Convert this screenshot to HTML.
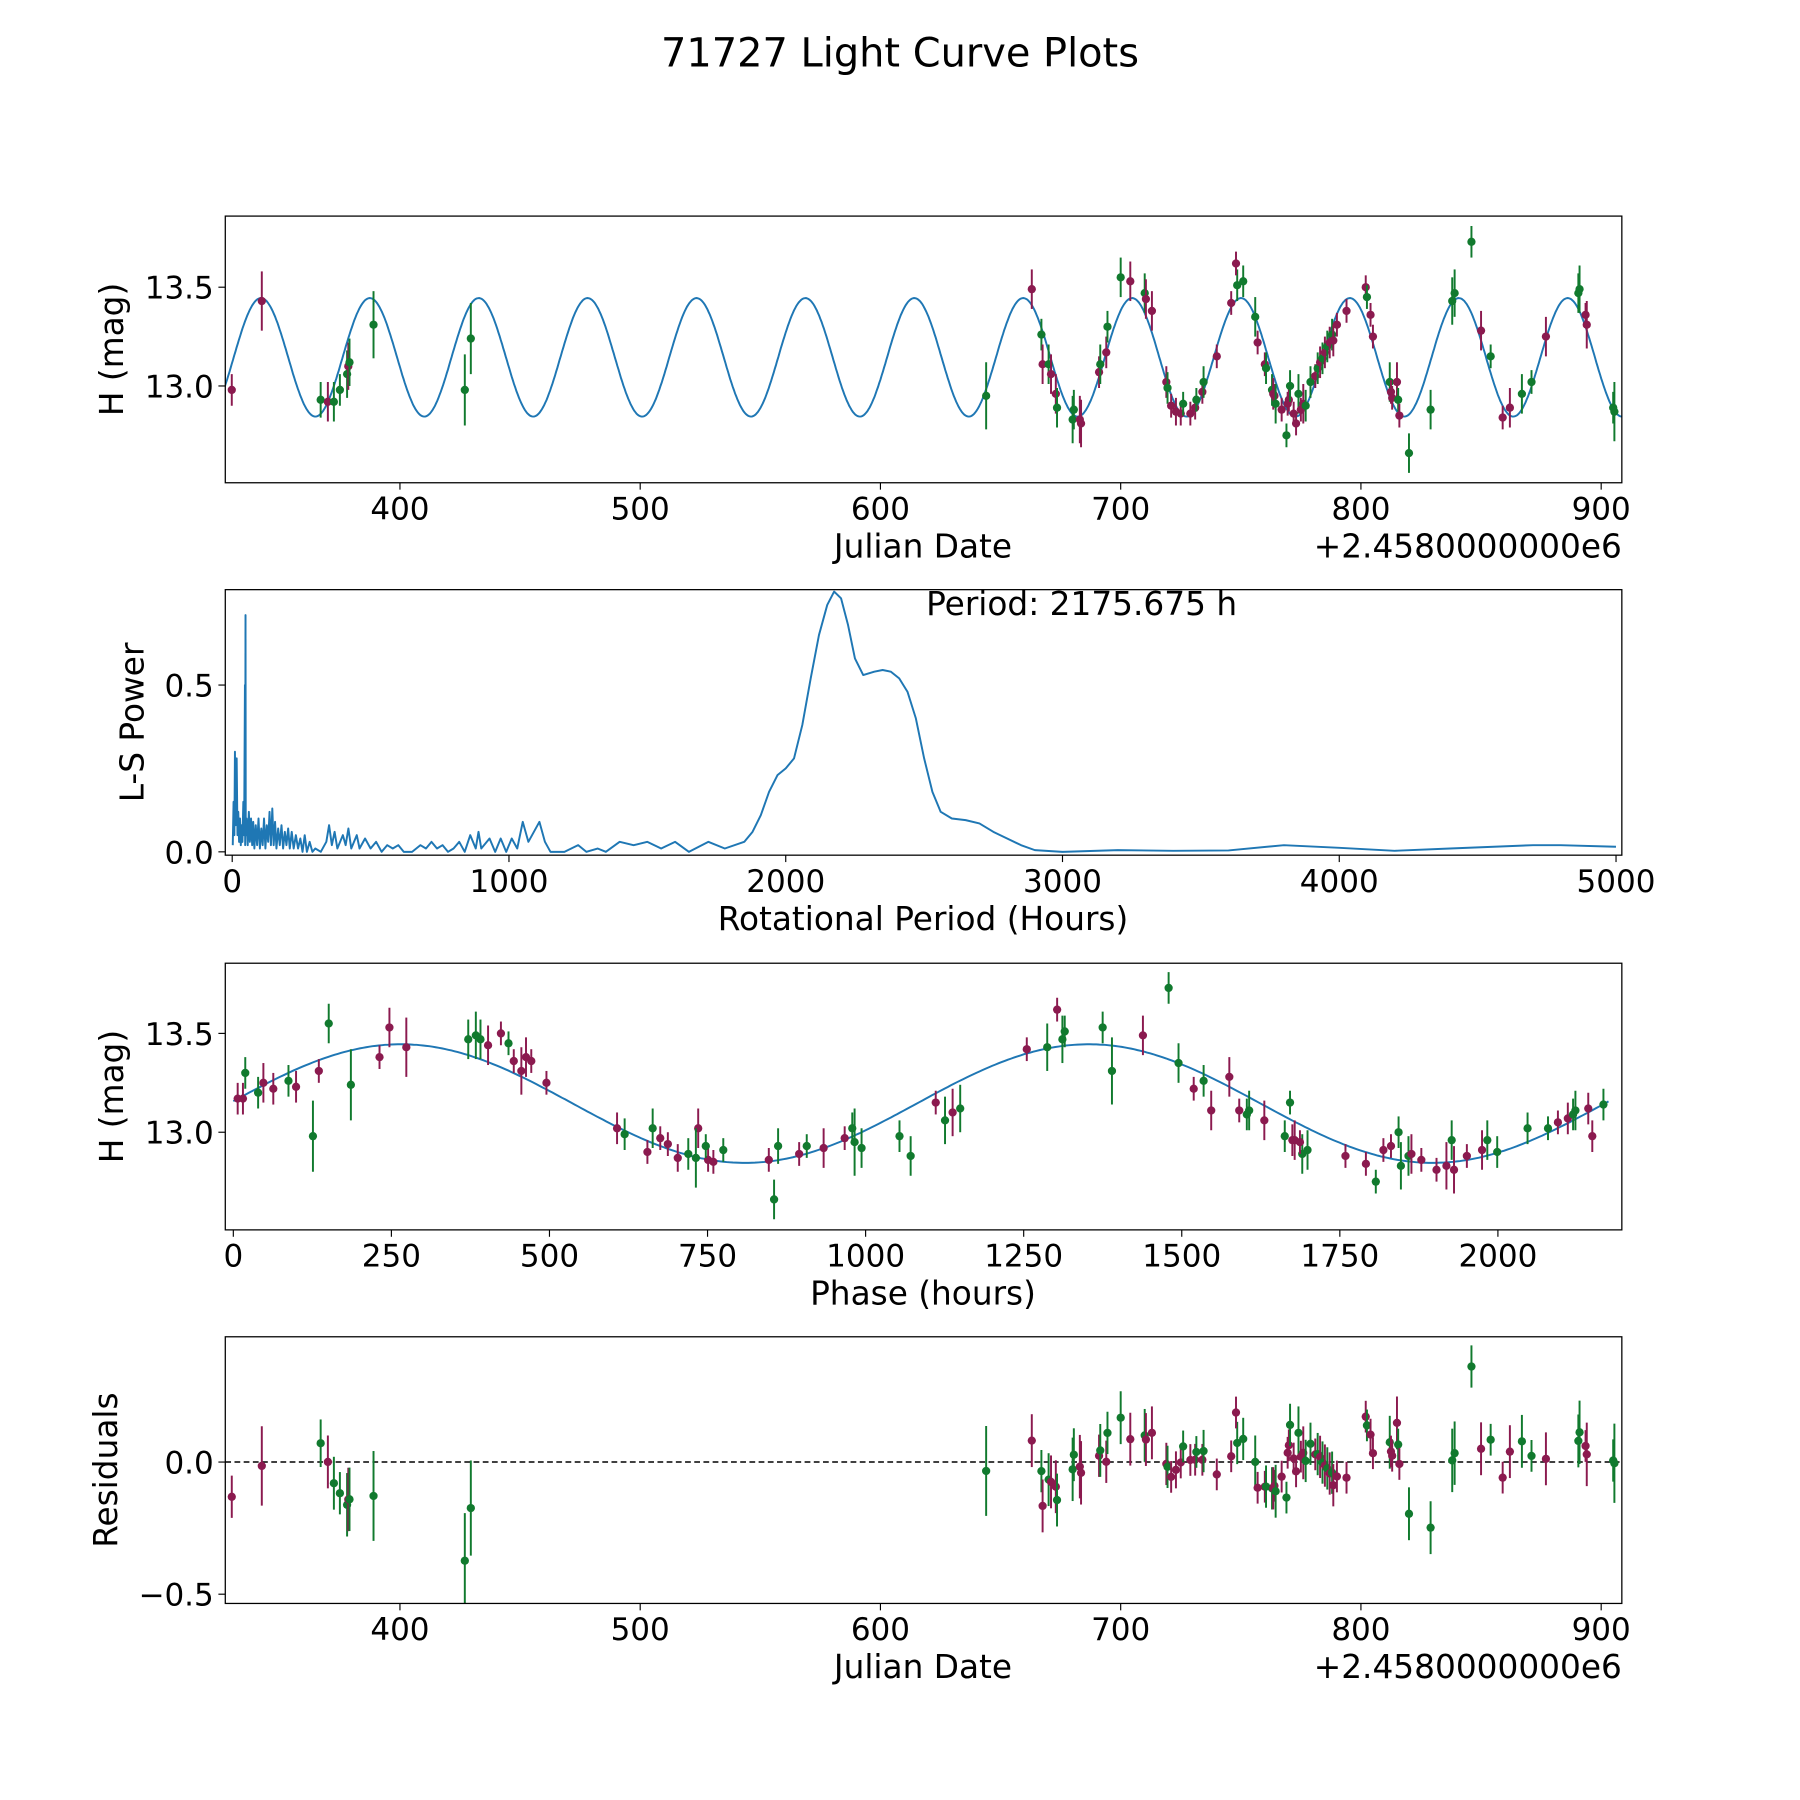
<!DOCTYPE html>
<html><head><meta charset="utf-8"><style>
html,body{margin:0;padding:0;background:#fff;}
svg{display:block;font-family:"DejaVu Sans","Liberation Sans",sans-serif;}
</style></head><body>
<svg id="fig" width="1800" height="1800" viewBox="0 0 1566 1566">
<text x="783" y="58" font-size="34.7" text-anchor="middle">71727 Light Curve Plots</text>
</svg>
<script>
// ---- data ----
const obsJD = [330,342.5,367,370,372.5,375,378,378.5,379,389,427,429.5,644,663,667,667.5,670,671,673,673.5,680,680.5,683,683.5,691,691.5,694,694.5,700,704,710,710.5,713,719,719.5,721,723,725,726,729,731,731.5,734,734.5,740,746,748.5,748,751,756,757,760,760.5,763,763.5,764,764.5,767,769,769.5,770,770.5,772,773,774,775,776,777,779,781,782,783,784,785,786,787,788,788.5,790,794,802,802.5,804,805,812,812.5,813,815,815.5,816,820,829,838,839,846,850,854,859,862,867,871,877,891,890.5,893.5,894,905,905.5];
const obsMag = [12.98,13.43,12.93,12.92,12.92,12.98,13.06,13.1,13.12,13.31,12.98,13.24,12.95,13.49,13.26,13.11,13.11,13.06,12.96,12.89,12.83,12.88,12.83,12.81,13.07,13.11,13.17,13.3,13.55,13.53,13.47,13.44,13.38,13.02,12.99,12.9,12.87,12.86,12.91,12.86,12.89,12.93,12.97,13.02,13.15,13.42,13.51,13.62,13.53,13.35,13.22,13.11,13.09,12.98,12.96,12.95,12.91,12.88,12.75,12.91,12.93,13.0,12.86,12.81,12.96,12.88,12.91,12.9,13.02,13.05,13.09,13.12,13.14,13.17,13.2,13.22,13.26,13.23,13.31,13.38,13.5,13.45,13.36,13.25,13.02,12.97,12.94,13.02,12.93,12.85,12.66,12.88,13.43,13.47,13.73,13.28,13.15,12.84,12.89,12.96,13.02,13.25,13.49,13.47,13.36,13.31,12.89,12.87];
const obsErr = [0.08,0.15,0.09,0.1,0.1,0.08,0.12,0.12,0.12,0.17,0.18,0.18,0.17,0.1,0.08,0.1,0.1,0.1,0.1,0.1,0.12,0.1,0.12,0.12,0.08,0.1,0.08,0.08,0.1,0.1,0.1,0.1,0.1,0.08,0.08,0.06,0.07,0.06,0.06,0.06,0.06,0.06,0.06,0.08,0.06,0.06,0.08,0.06,0.08,0.1,0.06,0.06,0.08,0.08,0.08,0.06,0.1,0.06,0.06,0.06,0.06,0.08,0.06,0.06,0.1,0.06,0.1,0.08,0.08,0.06,0.08,0.08,0.08,0.08,0.08,0.08,0.08,0.08,0.06,0.06,0.06,0.06,0.06,0.06,0.1,0.06,0.06,0.1,0.06,0.06,0.1,0.1,0.12,0.12,0.08,0.1,0.06,0.06,0.1,0.1,0.06,0.1,0.12,0.1,0.06,0.12,0.08,0.15];
const obsBand = "mmgmgggmgggggmgmgmmgggmmmgmggmgmmmgmmmgmmgmgmmgmggmmggmmgmgmmgmmgmmggmgmgmgmgmmmmgmmgmmmgmgggggmgmmggmggmmgggm".split("");
const perHours = [2,5,8,10,13,16,19,22,25,28,31,34,37,40,43,46,47,48,49,52,56,60,64,68,72,76,80,85,90,95,100,105,110,115,120,125,130,135,140,145,150,155,160,166,172,178,184,190,196,202,208,215,222,230,238,246,254,262,270,280,290,300,320,340,350,360,370,380,400,410,420,430,450,460,480,500,520,540,560,580,600,620,650,680,700,720,740,760,780,800,820,840,860,880,890,900,930,950,970,990,1010,1030,1050,1070,1090,1110,1130,1150,1200,1250,1280,1320,1350,1400,1450,1500,1550,1600,1650,1720,1780,1850,1880,1910,1940,1970,2000,2030,2060,2090,2120,2150,2175,2200,2225,2250,2280,2320,2350,2380,2410,2440,2470,2500,2530,2560,2600,2650,2700,2750,2800,2850,2900,3000,3200,3400,3600,3800,4000,4200,4400,4700,4800,5000];
const lsPower = [0.02,0.15,0.05,0.3,0.08,0.28,0.05,0.12,0.03,0.1,0.02,0.08,0.03,0.15,0.05,0.5,0.02,0.71,0.05,0.1,0.02,0.12,0.03,0.1,0.02,0.09,0.01,0.08,0.02,0.1,0.01,0.07,0.02,0.1,0.01,0.08,0.03,0.12,0.02,0.13,0.02,0.09,0.01,0.07,0.02,0.08,0.01,0.06,0.02,0.07,0.01,0.06,0.01,0.05,0.01,0.04,0.0,0.05,0.0,0.03,0.0,0.01,0.0,0.03,0.08,0.02,0.06,0.01,0.05,0.02,0.07,0.01,0.05,0.01,0.04,0.01,0.03,0.0,0.02,0.01,0.02,0.0,0.0,0.02,0.01,0.03,0.01,0.02,0.0,0.01,0.03,0.0,0.05,0.01,0.06,0.01,0.04,0.0,0.04,0.0,0.04,0.01,0.09,0.03,0.06,0.09,0.03,0.0,0.0,0.02,0.0,0.01,0.0,0.03,0.02,0.03,0.01,0.03,0.0,0.03,0.01,0.03,0.06,0.11,0.18,0.23,0.25,0.28,0.38,0.52,0.65,0.74,0.78,0.76,0.68,0.58,0.53,0.54,0.545,0.54,0.52,0.48,0.4,0.28,0.18,0.12,0.1,0.095,0.085,0.06,0.04,0.02,0.005,0.0,0.005,0.003,0.004,0.02,0.012,0.003,0.01,0.02,0.02,0.015];
const jdTicks = [400,500,600,700,800,900];
const lsTicksX = [0,1000,2000,3000,4000,5000];
const phaseTicks = [0,250,500,750,1000,1250,1500,1750,2000];
const magTicks = [13.0,13.5];
const lsTicksY = [0.0,0.5];
const resTicks = [-0.5,0.0];
const PERIOD = 2175.675, T0 = 331.1, MEAN = 13.145, AMP = 0.30, PEAKPH = 265;

// ---- helpers ----
const NS="http://www.w3.org/2000/svg";
const svg=document.getElementById('fig');
function mk(tag,attrs,parent){const e=document.createElementNS(NS,tag);for(const k in attrs)e.setAttribute(k,attrs[k]);(parent||svg).appendChild(e);return e;}
function model(ph){return MEAN+AMP*Math.cos(2*Math.PI*(ph-PEAKPH)/(PERIOD/2));}
function phaseOf(jd){let p=((jd-T0)*24)%PERIOD;if(p<0)p+=PERIOD;return p;}
const colors={m:'#8b1a4f',g:'#117a2e'};
const L=196,R=1411;
function makeAxes(name,top,bot,x0,x1,y0,y1){
  const g=mk('g',{});
  
  
  const sx=v=>L+(v-x0)/(x1-x0)*(R-L);
  const sy=v=>bot-(v-y0)/(y1-y0)*(bot-top);
  const clipId=name+'-clip';
  const cp=mk('clipPath',{id:clipId},g);mk('rect',{x:L,y:top,width:R-L,height:bot-top},cp);
  const plot=mk('g',{'clip-path':'url(#'+clipId+')'},g);
  return {g,plot,sx,sy,top,bot};
}
function frame(ax){const r=mk('rect',{x:L,y:ax.top,width:R-L,height:ax.bot-ax.top,fill:'none',stroke:'#000','stroke-width':1.1},ax.g);}
function xticks(ax,ticks,fmt){ticks.forEach(t=>{const x=ax.sx(t);mk('line',{x1:x,x2:x,y1:ax.bot,y2:ax.bot+6,stroke:'#000','stroke-width':1},ax.g);const tx=mk('text',{x:x,y:ax.bot+32,'font-size':27,'text-anchor':'middle'},ax.g);tx.textContent=fmt(t);});}
function yticks(ax,ticks,fmt){ticks.forEach(t=>{const y=ax.sy(t);mk('line',{x1:L-6,x2:L,y1:y,y2:y,stroke:'#000','stroke-width':1},ax.g);const tx=mk('text',{x:L-10,y:y+10,'font-size':27,'text-anchor':'end'},ax.g);tx.textContent=fmt(t);});}
function xlabel(ax,txt,name){const t=mk('text',{x:803,y:ax.bot+65,'font-size':28.5,'text-anchor':'middle'},ax.g);t.textContent=txt;}
function ylabel(ax,txt,x,name){const cy=(ax.top+ax.bot)/2;const t=mk('text',{x:x,y:cy,'font-size':28.5,'text-anchor':'middle',transform:'rotate(-90 '+x+' '+cy+')'},ax.g);t.textContent=txt;}
function offset(ax){const t=mk('text',{x:R,y:ax.bot+65,'font-size':28.5,'text-anchor':'end'},ax.g);t.textContent='+2.4580000000e6';}
function points(ax,xs,ys,errs,name){for(let i=0;i<xs.length;i++){const c=colors[obsBand[i]];const x=ax.sx(xs[i]);
  const el=mk('line',{x1:x,x2:x,y1:ax.sy(ys[i]-errs[i]),y2:ax.sy(ys[i]+errs[i]),stroke:c,'stroke-width':1.7},ax.plot);
  
  
  const p=mk('circle',{cx:x,cy:ax.sy(ys[i]),r:3.6,fill:c},ax.plot);
  
  }}
const fmt1=v=>v.toFixed(1).replace('-','\u2212');

// ---- panel 1 ----
const a1=makeAxes('light-curve-panel',188,420,327.3,908.6,12.51,13.86);
let d='';for(let jd=327;jd<=909;jd+=0.5){d+=(d?'L':'M')+a1.sx(jd).toFixed(1)+','+a1.sy(model(phaseOf(jd))).toFixed(1);}
let mp=mk('path',{d:d,fill:'none',stroke:'#1f77b4','stroke-width':1.7},a1.plot);

points(a1,obsJD,obsMag,obsErr,'observation');
frame(a1);xticks(a1,jdTicks,v=>String(v));yticks(a1,magTicks,fmt1);xlabel(a1,'Julian Date','x-axis-title');offset(a1);ylabel(a1,'H (mag)',107,'y-axis-title');

// ---- panel 2 ----
const a2=makeAxes('periodogram-panel',513,744,-25,5021,-0.01,0.786);
d='';perHours.forEach((p,i)=>{d+=(i?'L':'M')+a2.sx(p).toFixed(1)+','+a2.sy(lsPower[i]).toFixed(1);});
mp=mk('path',{d:d,fill:'none',stroke:'#1f77b4','stroke-width':1.7,'stroke-linejoin':'round'},a2.plot);

frame(a2);xticks(a2,lsTicksX,v=>String(v));yticks(a2,lsTicksY,fmt1);xlabel(a2,'Rotational Period (Hours)','x-axis-title');ylabel(a2,'L-S Power',125,'y-axis-title');
let pt=mk('text',{x:941,y:535,'font-size':28.5,'text-anchor':'middle'},a2.g);pt.textContent='Period: 2175.675 h';


// ---- panel 3 ----
const a3=makeAxes('phase-panel',838,1070,-12.7,2196,12.506,13.855);
d='';for(let ph=0;ph<=PERIOD;ph+=5){d+=(d?'L':'M')+a3.sx(ph).toFixed(1)+','+a3.sy(model(ph)).toFixed(1);}
mp=mk('path',{d:d,fill:'none',stroke:'#1f77b4','stroke-width':1.7},a3.plot);

points(a3,obsJD.map(phaseOf),obsMag,obsErr,'phased');
frame(a3);xticks(a3,phaseTicks,v=>String(v));yticks(a3,magTicks,fmt1);xlabel(a3,'Phase (hours)','x-axis-title');ylabel(a3,'H (mag)',107,'y-axis-title');

// ---- panel 4 ----
const a4=makeAxes('residuals-panel',1163,1395,327.3,908.6,-0.535,0.474);
const zl=mk('line',{x1:L,x2:R,y1:a4.sy(0),y2:a4.sy(0),stroke:'#000','stroke-width':1.3,'stroke-dasharray':'5,3'},a4.plot);

points(a4,obsJD,obsMag.map((m,i)=>m-model(phaseOf(obsJD[i]))),obsErr,'residual');
frame(a4);xticks(a4,jdTicks,v=>String(v));yticks(a4,resTicks,fmt1);xlabel(a4,'Julian Date','x-axis-title');offset(a4);ylabel(a4,'Residuals',102,'y-axis-title');
</script>
</body></html>
